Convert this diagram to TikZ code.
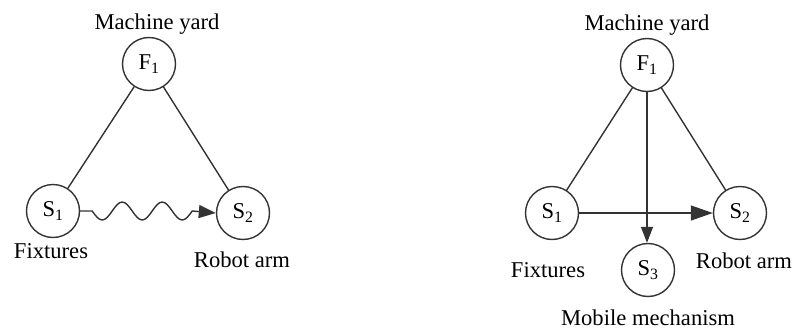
\documentclass[tikz,border=0pt]{standalone}
\usepackage{fontspec}
\setmainfont{Liberation Serif}
\usetikzlibrary{arrows.meta}
\begin{document}
\begin{tikzpicture}[x=1pt,y=-1pt,
  state/.style={circle,draw=black!80,line width=1.4pt,minimum size=53pt,inner sep=0pt,
    font=\fontsize{22.6}{26}\selectfont},
  lbl/.style={anchor=base,inner sep=0pt,font=\fontsize{22.6}{26}\selectfont},
  edge/.style={draw=black!80,line width=1.4pt},
  tipA/.style={-{Triangle[length=17pt,width=13pt]}}]
\useasboundingbox (0,0) rectangle (795,329);

% left: machine yard, fixtures, robot arm
\node[state] (lF) at (149,64) {F\textsubscript{1}};
\node[state] (lS1) at (53,211) {S\textsubscript{1}};
\node[state] (lS2) at (243,213) {S\textsubscript{2}};
\node[lbl] (lFt) at (157,30) {Machine yard};
\node[lbl] (lS1t) at (51,258) {Fixtures};
\node[lbl] (lS2t) at (242,267) {Robot arm};
\draw[edge] (lF) -- (lS1);
\draw[edge] (lF) -- (lS2);
% wavy transfer from S1 to S2: two and a half sine periods
\draw[edge,tipA] (lS1.east) -- ++(12,0)
  sin ++(10,9) cos ++(10,-9) sin ++(10,-9) cos ++(10,9)
  sin ++(10,9) cos ++(10,-9) sin ++(10,-9) cos ++(10,9)
  sin ++(10,9) cos ++(10,-9) -- (lS2.west);

% right: the same three plus the mobile mechanism
\node[state] (rF) at (647,65) {F\textsubscript{1}};
\node[state] (rS1) at (552,213) {S\textsubscript{1}};
\node[state] (rS2) at (740,213) {S\textsubscript{2}};
\node[state] (rS3) at (648,270) {S\textsubscript{3}};
\node[lbl] (rFt) at (647,31) {Machine yard};
\node[lbl] (rS1t) at (548,277) {Fixtures};
\node[lbl] (rS2t) at (744,268) {Robot arm};
\node[lbl] (rS3t) at (648,325) {Mobile mechanism};
\draw[edge] (rF) -- (rS1);
\draw[edge] (rF) -- (rS2);
\draw[edge,-{Triangle[length=22pt,width=15pt]}] (rS1) -- (rS2);
\draw[edge,-{Triangle[length=16pt,width=12pt]}] (rF.south) -- (rF.south |- rS3.north);
\end{tikzpicture}
\end{document}
